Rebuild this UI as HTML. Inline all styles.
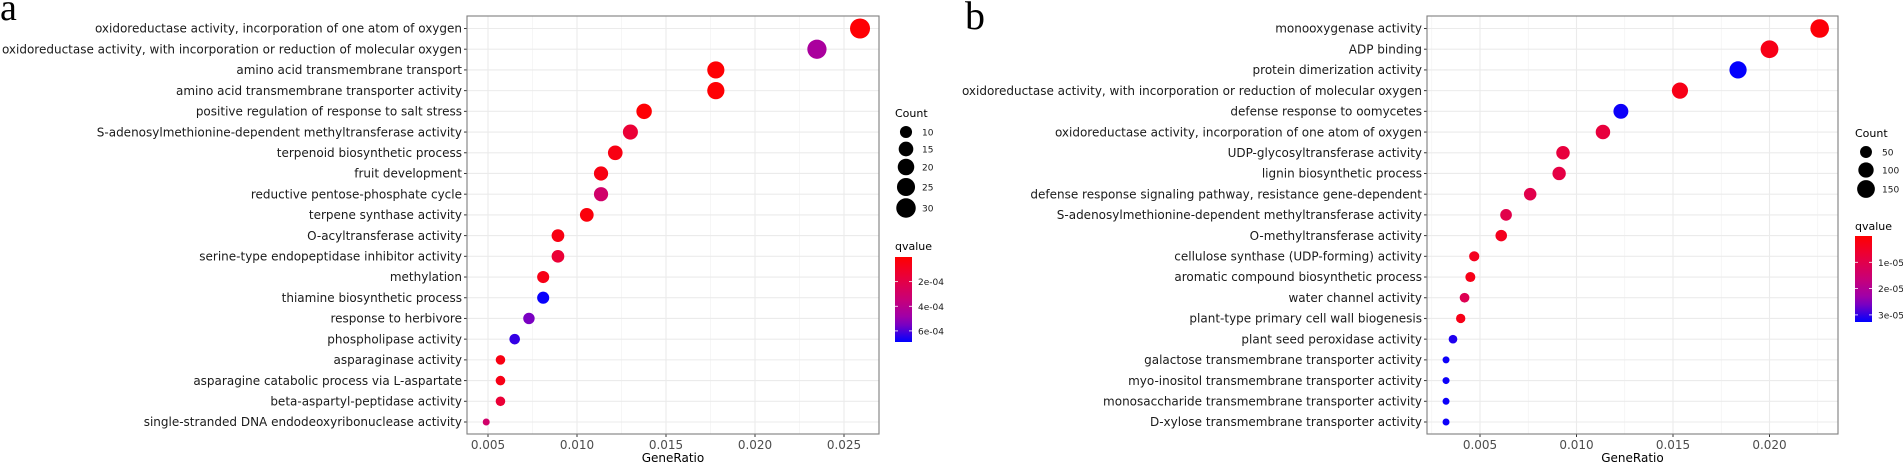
<!DOCTYPE html>
<html><head><meta charset="utf-8"><style>
html,body{margin:0;padding:0;background:#fff;}
svg{display:block;font-family:"DejaVu Sans","Liberation Sans",sans-serif;}
</style></head><body>
<svg id="chart" width="1903" height="464" viewBox="0 0 1903 464" xmlns="http://www.w3.org/2000/svg">
<text x="0" y="20" font-family="Liberation Serif, serif" font-size="38">a</text>
<text x="965" y="29" font-family="Liberation Serif, serif" font-size="40">b</text>
<g id="pa"></g>
<g id="pb"></g>
</svg>
<script>
const termsA = ["oxidoreductase activity, incorporation of one atom of oxygen","oxidoreductase activity, with incorporation or reduction of molecular oxygen","amino acid transmembrane transport","amino acid transmembrane transporter activity","positive regulation of response to salt stress","S-adenosylmethionine-dependent methyltransferase activity","terpenoid biosynthetic process","fruit development","reductive pentose-phosphate cycle","terpene synthase activity","O-acyltransferase activity","serine-type endopeptidase inhibitor activity","methylation","thiamine biosynthetic process","response to herbivore","phospholipase activity","asparaginase activity","asparagine catabolic process via L-aspartate","beta-aspartyl-peptidase activity","single-stranded DNA endodeoxyribonuclease activity"];
const ratioA = [0.0259,0.02348,0.0178,0.0178,0.01377,0.0130,0.01215,0.01135,0.01135,0.01055,0.00893,0.00893,0.0081,0.0081,0.0073,0.0065,0.0057,0.0057,0.0057,0.0049];
const countA = [32,29,22,22,17,16,15,14,14,13,11,11,10,10,9,8,7,7,7,6];
const qA = [1e-5,4.5e-4,1e-5,1e-5,1e-5,1.5e-4,0.5e-4,0.5e-4,3e-4,0.3e-4,0.5e-4,1.5e-4,0.6e-4,6.8e-4,5.5e-4,6.3e-4,0.5e-4,0.6e-4,1.5e-4,3e-4];
const ticksA = [0.005,0.010,0.015,0.020,0.025];
const tickLabelsA = ["0.005","0.010","0.015","0.020","0.025"];
const sizeLegA = [10,15,20,25,30];
const qTicksA = [2e-4,4e-4,6e-4];
const qTickLabelsA = ["2e-04","4e-04","6e-04"];

const termsB = ["monooxygenase activity","ADP binding","protein dimerization activity","oxidoreductase activity, with incorporation or reduction of molecular oxygen","defense response to oomycetes","oxidoreductase activity, incorporation of one atom of oxygen","UDP-glycosyltransferase activity","lignin biosynthetic process","defense response signaling pathway, resistance gene-dependent","S-adenosylmethionine-dependent methyltransferase activity","O-methyltransferase activity","cellulose synthase (UDP-forming) activity","aromatic compound biosynthetic process","water channel activity","plant-type primary cell wall biogenesis","plant seed peroxidase activity","galactose transmembrane transporter activity","myo-inositol transmembrane transporter activity","monosaccharide transmembrane transporter activity","D-xylose transmembrane transporter activity"];
const ratioB = [0.0226,0.0200,0.01837,0.01536,0.0123,0.01137,0.0093,0.0091,0.0076,0.00635,0.0061,0.0047,0.0045,0.0042,0.0040,0.0036,0.00324,0.00324,0.00324,0.00324];
const countB = [170,150,138,115,92,85,70,68,57,48,46,35,34,32,30,27,24,24,24,24];
const qB = [0.1e-5,0.3e-5,3.25e-5,0.3e-5,3.2e-5,0.8e-5,0.8e-5,0.9e-5,1.0e-5,1.0e-5,0.4e-5,0.4e-5,0.3e-5,1.1e-5,0.3e-5,3.1e-5,3.2e-5,3.2e-5,3.2e-5,3.2e-5];
const ticksB = [0.005,0.010,0.015,0.020];
const tickLabelsB = ["0.005","0.010","0.015","0.020"];
const sizeLegB = [50,100,150];
const qTicksB = [1e-5,2e-5,3e-5];
const qTickLabelsB = ["1e-05","2e-05","3e-05"];

const NS="http://www.w3.org/2000/svg";
function mk(parent,tag,attrs,text){const e=document.createElementNS(NS,tag);for(const k in attrs)e.setAttribute(k,attrs[k]);if(text!==undefined)e.textContent=text;parent.appendChild(e);return e;}
const STOPS=[[255,0,0],[232,0,62],[200,0,120],[150,0,180],[0,0,255]];
function lerpColor(t){t=Math.max(0,Math.min(1,t));const s=t*4,i=Math.min(3,Math.floor(s)),f=s-i;const a=STOPS[i],b=STOPS[i+1];
  return `rgb(${Math.round(a[0]+(b[0]-a[0])*f)},${Math.round(a[1]+(b[1]-a[1])*f)},${Math.round(a[2]+(b[2]-a[2])*f)})`;}

function panel(g,cfg){
  const {L,R,T,B,x0,xPer,terms,ratio,count,q,ticks,tickLabels,sizeLeg,qTicks,qTickLabels,qMax,rMin,rMax,leg}=cfg;
  const xs=v=>x0+(v-0.005)/0.005*xPer;
  const n=terms.length, y0=28.5, dy=(422-28.5)/(n-1);
  const ys=i=>y0+i*dy;
  const cMin=Math.min(...count), cMax=Math.max(...count);
  const rs=c=>rMin+(rMax-rMin)*Math.sqrt(Math.max(0,(c-cMin)/(cMax-cMin)));
  const col=v=>lerpColor(v/qMax);
  const bg=mk(g,'rect',{x:L,y:T,width:R-L,height:B-T,fill:'#fff'});
  
  
  for(let i=0;i<ticks.length;i++){
    const v=ticks[i]+0.0025, x=xs(v);
    if(x>L&&x<R){const l=mk(g,'line',{x1:x,x2:x,y1:T,y2:B,stroke:'#f0f0f0','stroke-width':0.6});}
    const vm=ticks[i]-0.0025, xm=xs(vm);
    if(i===0&&xm>L){const l=mk(g,'line',{x1:xm,x2:xm,y1:T,y2:B,stroke:'#f0f0f0','stroke-width':0.6});}
  }
  for(let i=0;i<n;i++){const l=mk(g,'line',{x1:L,x2:R,y1:ys(i),y2:ys(i),stroke:'#ebebeb','stroke-width':1.1});}
  ticks.forEach((v,i)=>{const x=xs(v);const l=mk(g,'line',{x1:x,x2:x,y1:T,y2:B,stroke:'#ebebeb','stroke-width':1.1});
    const tk=mk(g,'line',{x1:x,x2:x,y1:B,y2:B+3,stroke:'#333','stroke-width':1});
    const t=mk(g,'text',{x:x,y:B+15,'font-size':12,'text-anchor':'middle',fill:'#4d4d4d'},tickLabels[i]);});
  for(let i=0;i<n;i++){
    const tk=mk(g,'line',{x1:L-3,x2:L,y1:ys(i),y2:ys(i),stroke:'#333','stroke-width':1});
    const t=mk(g,'text',{x:L-5,y:ys(i)+4.2,'font-size':12,'text-anchor':'end',fill:'#1a1a1a'},terms[i]);
  }
  for(let i=0;i<n;i++){
    const c=mk(g,'circle',{cx:xs(ratio[i]),cy:ys(i),r:rs(count[i]),fill:col(q[i])});
    
    
  }
  const fr=mk(g,'rect',{x:L,y:T,width:R-L,height:B-T,fill:'none',stroke:'#7f7f7f','stroke-width':1.1});
  
  const xt=mk(g,'text',{x:(L+R)/2,y:462,'font-size':12,'text-anchor':'middle',fill:'#000'},'GeneRatio');
  
  const ct=mk(g,'text',{x:leg.x,y:leg.cy,'font-size':11},'Count');
  sizeLeg.forEach((c,i)=>{const cc=mk(g,'circle',{cx:leg.x+11,cy:leg.sy[i],r:rs(c),fill:'#000'});
    const t=mk(g,'text',{x:leg.x+27,y:leg.sy[i]+3.5,'font-size':9,fill:'#1a1a1a'},String(c));});
  const qt=mk(g,'text',{x:leg.x,y:leg.qy,'font-size':11},'qvalue');
  const gid='grad'+leg.x;
  const defs=mk(g,'defs',{});const lg=mk(defs,'linearGradient',{id:gid,x1:0,y1:0,x2:0,y2:1});
  for(let k=0;k<=10;k++){mk(lg,'stop',{offset:k/10,'stop-color':lerpColor(leg.qTop/qMax+(leg.qBot-leg.qTop)/qMax*k/10)});}
  const bar=mk(g,'rect',{x:leg.x,y:leg.by0,width:17,height:leg.by1-leg.by0,fill:`url(#${gid})`});
  
  const by=v=>leg.by0+(v-leg.qTop)/(leg.qBot-leg.qTop)*(leg.by1-leg.by0);
  qTicks.forEach((v,i)=>{const y=by(v);
    mk(g,'line',{x1:leg.x,x2:leg.x+3,y1:y,y2:y,stroke:'#fff','stroke-width':0.8});
    mk(g,'line',{x1:leg.x+14,x2:leg.x+17,y1:y,y2:y,stroke:'#fff','stroke-width':0.8});
    const t=mk(g,'text',{x:leg.x+23,y:y+3.5,'font-size':9,fill:'#1a1a1a'},qTickLabels[i]);});
}
panel(document.getElementById('pa'),{L:467,R:879,T:16,B:434,x0:488,xPer:89,terms:termsA,ratio:ratioA,count:countA,q:qA,ticks:ticksA,tickLabels:tickLabelsA,sizeLeg:sizeLegA,qTicks:qTicksA,qTickLabels:qTickLabelsA,qMax:6.9e-4,rMin:3.5,rMax:10,
  leg:{x:895,cy:117,sy:[132,149,167,187,208],qy:250,by0:257,by1:342,qTop:0,qBot:6.9e-4}});
panel(document.getElementById('pb'),{L:1427,R:1838,T:16,B:434,x0:1480,xPer:96.5,terms:termsB,ratio:ratioB,count:countB,q:qB,ticks:ticksB,tickLabels:tickLabelsB,sizeLeg:sizeLegB,qTicks:qTicksB,qTickLabels:qTickLabelsB,qMax:3.27e-5,rMin:3.5,rMax:9.3,
  leg:{x:1855,cy:137,sy:[152,170,189],qy:230,by0:236,by1:322,qTop:0,qBot:3.27e-5}});
</script>
</body></html>
